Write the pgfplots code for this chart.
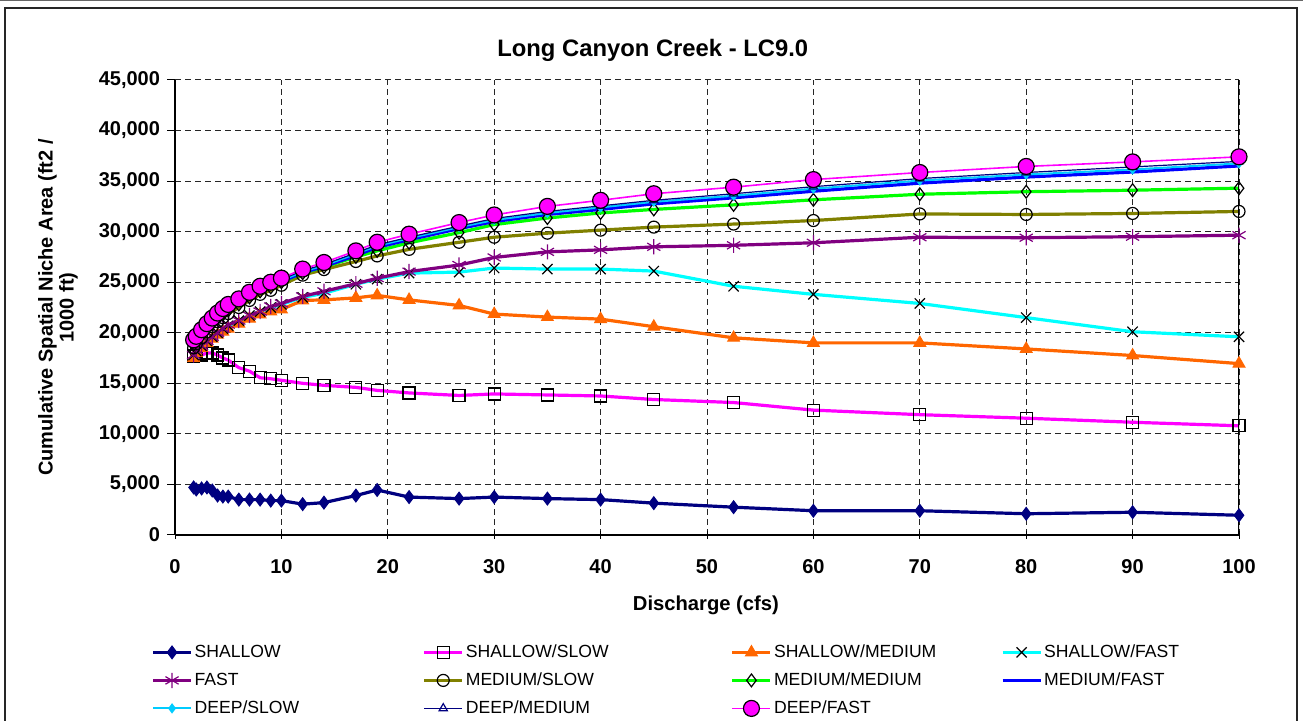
\documentclass[border=0pt]{standalone}
\usepackage{pgfplots}
\pgfplotsset{compat=1.18}
\usepackage{pgfplotstable}
\usepackage{fontspec}
\setmainfont{Liberation Sans}
\definecolor{cNavy}{HTML}{000080}
\definecolor{cMag}{HTML}{FF00FF}
\definecolor{cOrange}{HTML}{FF6600}
\definecolor{cCyan}{HTML}{00FFFF}
\definecolor{cPurple}{HTML}{800080}
\definecolor{cOlive}{HTML}{808000}
\definecolor{cGreen}{HTML}{00FF00}
\definecolor{cBlue}{HTML}{0000FF}
\definecolor{cSky}{HTML}{00CCFF}

\pgfplotstableread{
x     sh    shs    shm    shf    f      ms     mm     mf     ds     dm     df
1.75  4700  17700  17500  17800  17800  18500  18800  19000  19100  19200  19300
2     4500  17800  18000  18200  18300  18900  19200  19350  19450  19550  19650
2.5   4600  17800  18500  18700  18700  19500  19800  20000  20100  20200  20300
3     4700  18000  19000  19200  19200  20100  20400  20600  20700  20800  20900
3.5   4400  18000  19400  19600  19600  20600  20900  21100  21200  21300  21450
4     3900  17800  19800  20000  20000  21100  21400  21600  21700  21800  21950
4.5   3800  17500  20100  20400  20400  21500  21800  22000  22100  22250  22400
5     3800  17300  20400  20700  20800  21900  22200  22400  22500  22650  22800
6     3500  16550  20900  21200  21200  22500  22800  23000  23100  23200  23350
7     3500  16200  21400  21700  21700  23200  23500  23650  23750  23850  24000
8     3500  15550  21800  22100  22100  23800  24100  24250  24350  24450  24600
9     3400  15450  22100  22500  22600  24200  24500  24650  24750  24850  25000
10    3400  15300  22300  22800  22900  24700  25000  25050  25150  25250  25400
12    3050  15000  23200  23500  23600  25700  25900  25950  26050  26150  26300
14    3200  14800  23250  23900  24100  26250  26500  26550  26650  26750  26950
17    3900  14600  23450  24800  24850  27050  27500  27650  27800  27900  28100
19    4450  14300  23700  25300  25400  27600  28100  28450  28600  28700  28950
22    3750  14050  23250  25900  26050  28250  28900  29200  29350  29450  29750
26.7  3600  13800  22700  26000  26700  28950  29900  30300  30450  30550  30900
30    3750  13950  21850  26400  27450  29450  30700  31000  31150  31300  31650
35    3600  13850  21550  26300  28000  29850  31350  31700  31850  32000  32500
40    3500  13750  21350  26300  28200  30150  31850  32200  32400  32550  33100
45    3150  13400  20600  26100  28500  30450  32200  32750  32950  33100  33750
52.5  2750  13100  19500  24600  28650  30750  32650  33350  33550  33750  34400
60    2400  12350  19000  23800  28900  31100  33150  34000  34250  34450  35150
70    2400  11900  19000  22900  29450  31750  33700  34800  35050  35250  35850
80    2100  11550  18400  21500  29400  31700  33950  35400  35650  35850  36450
90    2250  11150  17750  20100  29500  31800  34100  35900  36150  36400  36900
100   1950  10800  16950  19600  29650  32000  34300  36500  36750  36950  37400
}\data

\begin{document}
\begin{tikzpicture}
\useasboundingbox (0pt,0pt) rectangle (651.5pt,360.5pt);
\draw[line width=0.5pt, black!60] (0pt,360.25pt) -- (651.5pt,360.25pt);
\draw[line width=0.6pt, black!85] (2.5pt,0pt) -- (2.5pt,356.5pt) -- (648.5pt,356.5pt) -- (648.5pt,0pt);
\begin{axis}[
  at={(87.5pt,93pt)}, anchor=south west,
  width=532pt, height=227.5pt, scale only axis,
  xmin=0, xmax=100, ymin=0, ymax=45000,
  xtick={0,10,...,100}, ytick={0,5000,...,45000},
  axis x line*=bottom, axis y line*=left,
  axis line style={line width=0.6pt, black},
  grid=major,
  major grid style={line width=0.5pt, black!85, dash pattern=on 3pt off 2pt},
  xtick align=center, ytick align=outside,
  major tick length=4pt,
  tick style={line width=0.5pt, black},
  scaled y ticks=false,
  /pgf/number format/assume math mode=true,
  yticklabel style={/pgf/number format/1000 sep={,}, font=\bfseries\fontsize{10}{12}\selectfont},
  xticklabel style={font=\bfseries\fontsize{10}{12}\selectfont, yshift=-6.5pt},
  title={Long Canyon Creek - LC9.0},
  title style={font=\bfseries\fontsize{11.9}{14}\selectfont, at={(axis description cs:0.449,1.038)}, anchor=center},
  xlabel={Discharge (cfs)},
  xlabel style={font=\bfseries\fontsize{10.1}{12}\selectfont, at={(axis description cs:0.499,-0.1535)}, anchor=center},
  ylabel={Cumulative Spatial Niche Area (ft2 /\\1000 ft)},
  ylabel style={font=\bfseries\fontsize{10}{10.5}\selectfont, align=center, at={(axis description cs:-0.1100,0.5)}, anchor=center},
  legend columns=4,
  legend cell align=left,
  legend image code/.code={\draw[mark repeat=2,mark phase=2,#1] plot coordinates {(0pt,0pt) (9.5pt,0pt) (19pt,0pt)};},
  legend style={draw=none, fill=none, at={(axis description cs:-0.0225,-0.2396)}, anchor=north west,
    font=\fontsize{8.8}{10}\selectfont, inner sep=0pt, row sep=6pt,
    nodes={inner sep=0pt, text height=6.5pt, text depth=1.5pt},
    /tikz/every odd column/.append style={column sep=1pt}},
]
\addplot[color=cNavy, line width=1.6pt, mark=diamond*, mark size=3.2pt, mark options={solid, fill=cNavy, draw=cNavy, line width=0.5pt}] table[x=x,y=sh]{\data};
\addlegendentry{\makebox[114pt][l]{SHALLOW}}
\addplot[color=cMag, line width=1.6pt, mark=square, mark size=3pt, mark options={solid, draw=black, line width=0.6pt}] table[x=x,y=shs]{\data};
\addlegendentry{\makebox[132.5pt][l]{SHALLOW/SLOW}}
\addplot[color=cOrange, line width=1.6pt, mark=triangle*, mark size=3.4pt, mark options={solid, fill=cOrange, draw=cOrange, line width=0.5pt}] table[x=x,y=shm]{\data};
\addlegendentry{\makebox[113.5pt][l]{SHALLOW/MEDIUM}}
\addplot[color=cCyan, line width=1.6pt, mark=x, mark size=3.6pt, mark options={solid, draw=black, line width=0.6pt}] table[x=x,y=shf]{\data};
\addlegendentry{\makebox[114pt][l]{SHALLOW/FAST}}
\addplot[color=cPurple, line width=1.6pt, mark=asterisk, mark size=3.8pt, mark options={solid, draw=cPurple, line width=0.6pt}] table[x=x,y=f]{\data};
\addlegendentry{\makebox[114pt][l]{FAST}}
\addplot[color=cOlive, line width=1.6pt, mark=o, mark size=3pt, mark options={solid, draw=black, line width=0.6pt}] table[x=x,y=ms]{\data};
\addlegendentry{\makebox[132.5pt][l]{MEDIUM/SLOW}}
\addplot[color=cGreen, line width=1.6pt, mark=diamond, mark size=3.2pt, mark options={solid, draw=black, line width=0.6pt}] table[x=x,y=mm]{\data};
\addlegendentry{\makebox[113.5pt][l]{MEDIUM/MEDIUM}}
\addplot[color=cBlue, line width=1.6pt, no marks] table[x=x,y=mf]{\data};
\addlegendentry{\makebox[114pt][l]{MEDIUM/FAST}}
\addplot[color=cSky, line width=1pt, mark=diamond*, mark size=1.8pt, mark options={solid, fill=cSky, draw=cSky}] table[x=x,y=ds]{\data};
\addlegendentry{\makebox[114pt][l]{DEEP/SLOW}}
\addplot[color=cNavy, line width=0.6pt, mark=triangle, mark size=2.4pt, mark options={solid, draw=cNavy, line width=0.6pt}] table[x=x,y=dm]{\data};
\addlegendentry{\makebox[132.5pt][l]{DEEP/MEDIUM}}
\addplot[color=cMag, line width=0.8pt, mark=*, mark size=4pt, mark options={solid, fill=cMag, draw=black, line width=0.6pt}] table[x=x,y=df]{\data};
\addlegendentry{\makebox[113.5pt][l]{DEEP/FAST}}
\draw[line width=0.6pt, black] (rel axis cs:1,0) -- (rel axis cs:1,1);
\end{axis}
\end{tikzpicture}
\end{document}
